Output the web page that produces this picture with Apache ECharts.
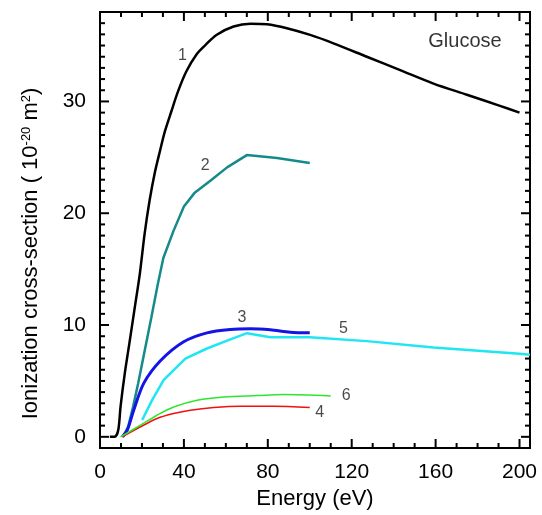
<!DOCTYPE html>
<html>
<head>
<meta charset="utf-8">
<script src="https://cdn.jsdelivr.net/npm/echarts@6/dist/echarts.min.js"></script>
<style>
  html, body { margin: 0; padding: 0; background: #fff; }
  #chart { width: 542px; height: 515px; }
</style>
</head>
<body>
<div id="chart"></div>
<script>
// curves, [energy eV, cross-section 1e-20 m^2]
const curve1 = [[4.7,0],[7,0],[8.7,0.6],[9.8,2.7],[11.8,5.65],[14.2,8.6],[16.6,11.6],[19,14.6],[21.3,18.2],
  [23.7,21.2],[26.1,23.6],[28.5,25.5],[30.9,27.3],[34,29.1],[37.2,30.9],[41.2,32.7],[46,34.2],[50,35.0],
  [55.5,35.95],[63.7,36.7],[71.7,36.95],[79.6,36.9],[89.1,36.55],[100.2,35.95],[111.3,35.2],[127.2,34.0],
  [143.1,32.8],[159,31.6],[174.9,30.6],[190.7,29.6],[200,29.0]];
const curve2 = [[11,0],[13.4,0.9],[15.8,2.7],[18.2,4.8],[21.3,7.7],[24.5,10.7],[27.5,13.6],[30.2,16],
  [35,18.4],[40,20.6],[45,21.8],[52.6,22.9],[60.6,24.1],[70,25.2],[84.4,24.95],[100,24.5]];
const curve3 = [[10.6,0],[13,0.6],[16.1,2.4],[20.9,4.8],[28.8,6.8],[39.9,8.5],[51,9.3],[62.1,9.6],
  [71.7,9.66],[81.2,9.57],[90.7,9.36],[100,9.3]];
const curve4 = [[10.6,0],[19.3,0.9],[27.2,1.64],[35.1,2.08],[43.1,2.38],[54.2,2.62],[66.9,2.74],
  [82.8,2.74],[100,2.62]];
const curve5 = [[20.1,1.5],[24.9,3.3],[30.4,5.1],[40.7,7.0],[51,7.9],[60.6,8.6],[70.1,9.27],[81.2,8.9],
  [100,8.9],[127.2,8.56],[159,8.0],[200,7.43],[205,7.35]];
const curve6 = [[9.8,0],[19.3,1.04],[27.2,1.93],[35.1,2.67],[46.3,3.27],[59,3.57],[74.9,3.69],
  [87.5,3.78],[110,3.66]];
const curveLabels = [[39.3,34.1,'1'],[50.2,24.3,'2'],[67.7,10.64,'3'],[104.7,2.14,'4'],[116.1,9.66,'5'],[117.4,3.72,'6']];
const titleLabel = [[174,35.4,'Glucose']];

// tick marks drawn on all four sides: [value, 0 = x axis / 1 = y axis, 1 = major]
const xMajor = [0, 40, 80, 120, 160, 200];
const xMinor = [10, 20, 30, 50, 60, 70, 90, 100, 110, 130, 140, 150, 170, 180, 190];
const yMajor = [0, 10, 20, 30];
const yMinor = [1,2,3,4,5,6,7,8,9,11,12,13,14,15,16,17,18,19,21,22,23,24,25,26,27,28,29,31,32,33,34,35,36,37];
const X_MIN = 0, X_MAX = 205, Y_MIN = -1, Y_MAX = 38;

const tickData = [].concat(
  xMajor.map(v => [v, 0, 1]), xMinor.map(v => [v, 0, 0]),
  yMajor.map(v => [v, 1, 1]), yMinor.map(v => [v, 1, 0])
);

const font = 'Liberation Sans, Arial, sans-serif';
const chart = echarts.init(document.getElementById('chart'));

function renderTick(params, api) {
  const v = api.value(0), isY = api.value(1) === 1, len = api.value(2) === 1 ? 9 : 5;
  const st = { stroke: '#000', lineWidth: 2 };
  if (!isY) {
    const b = api.coord([v, Y_MIN]), t = api.coord([v, Y_MAX]);
    return { type: 'group', children: [
      { type: 'line', shape: { x1: b[0], y1: b[1], x2: b[0], y2: b[1] - len }, style: st },
      { type: 'line', shape: { x1: t[0], y1: t[1], x2: t[0], y2: t[1] + len }, style: st }
    ] };
  }
  const l = api.coord([X_MIN, v]), r = api.coord([X_MAX, v]);
  return { type: 'group', children: [
    { type: 'line', shape: { x1: l[0], y1: l[1], x2: l[0] + len, y2: l[1] }, style: st },
    { type: 'line', shape: { x1: r[0], y1: r[1], x2: r[0] - len, y2: r[1] }, style: st }
  ] };
}

function line(data, color, width, smooth) {
  return {
    type: 'line', data: data, showSymbol: false, symbol: 'none', smooth: smooth,
    lineStyle: { color: color, width: width }, z: 3
  };
}

chart.setOption({
  animation: false,
  grid: { left: 100, top: 12, right: 12, bottom: 67, show: true, borderColor: '#000', borderWidth: 2, backgroundColor: 'transparent' },
  xAxis: {
    type: 'value', min: X_MIN, max: X_MAX, interval: 40,
    axisLine: { show: false }, axisTick: { show: false }, splitLine: { show: false },
    axisLabel: { fontSize: 21, color: '#000', fontFamily: font, margin: 14, formatter: v => (v % 40 === 0 ? v : '') },
    name: 'Energy (eV)', nameLocation: 'middle', nameGap: 40,
    nameTextStyle: { fontSize: 22, color: '#000', fontFamily: font }
  },
  yAxis: {
    type: 'value', min: Y_MIN, max: Y_MAX,
    axisLine: { show: false }, axisTick: { show: false }, splitLine: { show: false },
    axisLabel: { fontSize: 21, color: '#000', fontFamily: font, margin: 14, showMinLabel: false, showMaxLabel: false },
    name: 'Ionization cross-section ( 10{sup|-20} m{sup|2})', nameLocation: 'middle', nameGap: 58,
    nameTextStyle: {
      fontSize: 22, color: '#000', fontFamily: font, padding: [0, 47, 0, 0],
      rich: { sup: { fontSize: 13, color: '#000', fontFamily: font, verticalAlign: 'top' } }
    }
  },
  series: [
    line(curve1, '#000000', 2.5, 0.3),
    line(curve2, '#158a8a', 2.5, false),
    line(curve3, '#1414e6', 3, 0.3),
    line(curve4, '#f01010', 1.5, 0.3),
    line(curve5, '#1ee6f2', 2.5, false),
    line(curve6, '#2ee62e', 1.5, 0.3),
    {
      type: 'custom', data: tickData, renderItem: renderTick, clip: false, silent: true, z: 5,
      encode: { x: 0, y: -1 }
    },
    {
      type: 'scatter', data: curveLabels, symbolSize: 0,
      label: { show: true, position: 'inside', formatter: p => p.data[2], fontSize: 16, color: '#1a1a1a', fontFamily: font }
    },
    {
      type: 'scatter', data: titleLabel, symbolSize: 0,
      label: { show: true, position: 'inside', formatter: p => p.data[2], fontSize: 20, color: '#000', fontFamily: font }
    }
  ]
});
</script>
</body>
</html>
